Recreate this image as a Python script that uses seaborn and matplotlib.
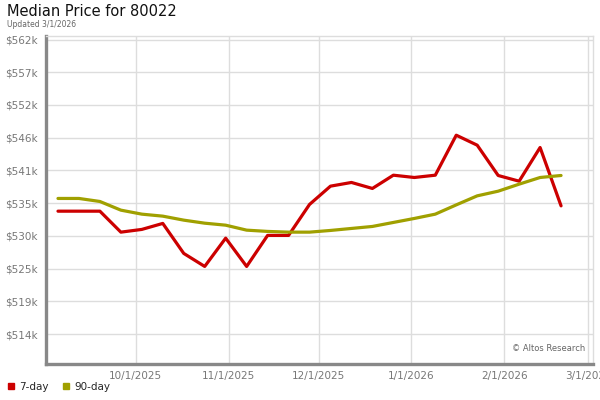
import pandas as pd
import matplotlib.pyplot as plt
import matplotlib.dates as mdates
from matplotlib.lines import Line2D
import seaborn as sns

# ── data ─────────────────────────────────────────
week_start = '2025-09-05'
n_weeks = 25
price_7day = [534.07, 534.07, 534.07, 530.61, 531.06, 532.05, 527.10, 524.95,
              529.62, 524.95, 530.07, 530.07, 535.18, 538.20, 538.81, 537.82,
              540.01, 539.63, 540.01, 546.61, 544.96, 539.96, 539.02, 544.58,
              534.95]
price_90day = [536.17, 536.17, 535.67, 534.24, 533.58, 533.25, 532.59, 532.09,
               531.76, 530.94, 530.73, 530.61, 530.61, 530.89, 531.22, 531.55,
               532.21, 532.87, 533.58, 535.11, 536.60, 537.37, 538.53, 539.63,
               539.96]
y_ticks = [513.8, 519.2, 524.6, 530.0, 535.4, 540.8, 546.2, 551.6, 557.0, 562.4]
y_labels = ['$514k', '$519k', '$525k', '$530k', '$535k', '$541k', '$546k',
            '$552k', '$557k', '$562k']
x_ticks = ['2025-10-01', '2025-11-01', '2025-12-01', '2026-01-01',
           '2026-02-01', '2026-03-01']
x_labels = ['10/1/2025', '11/1/2025', '12/1/2025', '1/1/2026', '2/1/2026',
            '3/1/2026']
series_names = ['7-day', '90-day']
colors = {'7-day': '#cc0000', '90-day': '#a0a000'}

dates = pd.date_range(week_start, periods=n_weeks, freq='7D')
df = pd.DataFrame({
    'date': list(dates) * 2,
    'price': price_7day + price_90day,
    'series': ['7-day'] * n_weeks + ['90-day'] * n_weeks,
})

# ── style ─────────────────────────────────────────
sns.set_style('white')
plt.rcParams['font.family'] = ['DejaVu Sans']

fig = plt.figure(figsize=(6, 4), dpi=100)
ax = fig.add_axes([46 / 600, 1 - 364 / 400, (593 - 46) / 600, (364 - 36) / 400])

sns.lineplot(data=df, x='date', y='price', hue='series', palette=colors,
             linewidth=2.3, ax=ax, legend=False)

ax.set_xlim(pd.Timestamp('2025-09-01'), pd.Timestamp('2026-03-02 16:00'))
ax.set_ylim(508.85, 562.98)

ax.set_yticks(y_ticks)
ax.set_yticklabels(y_labels)
ax.set_xticks([mdates.date2num(pd.Timestamp(d)) for d in x_ticks])
ax.set_xticklabels(x_labels)
ax.tick_params(axis='both', length=0, labelsize=7.5, labelcolor='#777777')
ax.tick_params(axis='y', pad=6)
ax.tick_params(axis='x', pad=5)
ax.set_xlabel('')
ax.set_ylabel('')

ax.grid(True, color='#dddddd', linewidth=1)
ax.set_axisbelow(True)
for side in ['top', 'right']:
    ax.spines[side].set_color('#dddddd')
    ax.spines[side].set_linewidth(1)
for side in ['left', 'bottom']:
    ax.spines[side].set_color('#888888')
    ax.spines[side].set_linewidth(2.4)

ax.text(0.985, 0.035, '© Altos Research', transform=ax.transAxes,
        ha='right', va='bottom', fontsize=6, color='#666666')

# titles
fig.text(7 / 600, 1 - 4 / 400, 'Median Price for 80022', ha='left', va='top',
         fontsize=10.5, color='#111111')
fig.text(7 / 600, 1 - 20 / 400, 'Updated 3/1/2026', ha='left', va='top',
         fontsize=5.5, color='#666666')

# legend
handles = [Line2D([], [], marker='s', linestyle='', markersize=5,
                  color=colors[s]) for s in series_names]
fig.legend(handles, series_names, loc='lower left', bbox_to_anchor=(-0.005, 0.0),
           ncol=2, frameon=False, fontsize=7.5, handletextpad=0.3,
           columnspacing=1.2, handlelength=1.0, borderpad=0.3)

plt.savefig('out.png', dpi=100)
